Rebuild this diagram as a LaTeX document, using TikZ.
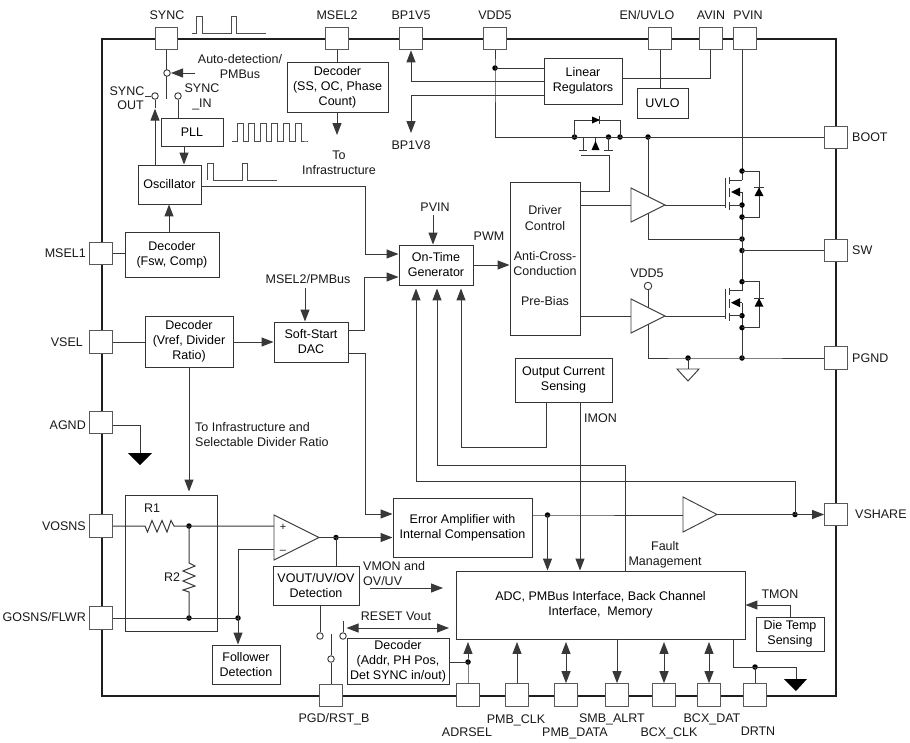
\documentclass[tikz,border=0pt]{standalone}
\usepackage{fontspec}
\setmainfont{Liberation Sans}
\usetikzlibrary{arrows.meta,calc}
\definecolor{ln}{HTML}{383838}
\tikzset{
  wire/.style={draw=ln,line width=1pt,line join=miter},
  arr/.style={wire,-{Triangle[length=12pt,width=9pt]}},
  darr/.style={wire,{Triangle[length=12pt,width=9pt]}-{Triangle[length=12pt,width=9pt]}},
  frame/.style={draw=black!88,line width=2pt},
  pin/.style={draw=black!65,line width=1.2pt,fill=white,minimum width=22.5pt,minimum height=22.5pt,inner sep=0pt},
  blk/.style={draw=black!80,line width=.95pt,fill=white,inner sep=0pt,align=center,font=\fontsize{12.5}{15}\selectfont},
  lbl/.style={inner sep=0pt,text height=9pt,text depth=0pt,font=\fontsize{12.5}{15}\selectfont,text=black!90},
  dotn/.style={circle,fill=black,inner sep=0pt,minimum size=5.5pt},
  swc/.style={circle,draw=ln,line width=.9pt,fill=white,inner sep=0pt,minimum size=6.5pt},
  wave/.style={draw=black!70,line width=.9pt},
  amp/.style={draw=black!75,line width=.95pt,fill=white,line join=miter},
  fetl/.style={draw=ln,line width=1pt},
}
\newcommand{\blockbox}[6]{%
  \pgfmathsetmacro{\bxc}{(#2+#4)/2}\pgfmathsetmacro{\byc}{(#3+#5)/2}%
  \pgfmathsetmacro{\bxw}{#4-#2}\pgfmathsetmacro{\byh}{#5-#3}%
  \node[blk,minimum width=\bxw pt,minimum height=\byh pt] (#1) at (\bxc,\byc) {#6};}
\begin{document}
\begin{tikzpicture}[x=1pt,y=-1pt]
\useasboundingbox (0,0) rectangle (910,742);
\fill[white] (0,0) rectangle (910,742);
% chip frame
\draw[frame] (101.5,38.5) rectangle (836,696);
% pins
\node[pin] (sync) at (166.5,38.5) {};
\node[pin] (msel2) at (337,38.5) {};
\node[pin] (bp) at (411,38.5) {};
\node[pin] (vdd) at (495,38.5) {};
\node[pin] (en) at (660,38.5) {};
\node[pin] (avin) at (711,38.5) {};
\node[pin] (pvin) at (745,38.5) {};
\node[pin] (boot) at (836,137.5) {};
\node[pin] (sw) at (836,250.5) {};
\node[pin] (pgnd) at (836,358) {};
\node[pin] (vshare) at (836,514.5) {};
\node[pin] (msel1) at (101,253.5) {};
\node[pin] (vsel) at (101,342) {};
\node[pin] (agnd) at (101,422.5) {};
\node[pin] (vosns) at (101,526) {};
\node[pin] (gosns) at (101,618) {};
\node[pin] (pgd) at (331,695.5) {};
\node[pin] (adrsel) at (468,695) {};
\node[pin] (pmbclk) at (517,695) {};
\node[pin] (pmbdata) at (566,695) {};
\node[pin] (smb) at (617,695) {};
\node[pin] (bcxclk) at (664,695) {};
\node[pin] (bcxdat) at (709,695) {};
\node[pin] (drtn) at (755,695) {};
% blocks
\blockbox{pll}{161}{118}{223}{146}{PLL}
\blockbox{osc}{138}{165}{201}{204}{Oscillator}
\blockbox{decss}{287}{62}{388}{112}{Decoder\\(SS, OC, Phase\\Count)}
\blockbox{decfsw}{125}{232}{219}{277}{Decoder\\(Fsw, Comp)}
\blockbox{decv}{145}{316}{233}{367}{Decoder\\(Vref, Divider\\Ratio)}
\blockbox{ss}{274}{322}{348}{362}{Soft-Start\\DAC}
\blockbox{ot}{399}{245}{473}{285}{On-Time\\Generator}
\blockbox{drv}{510}{182}{580}{335}{}
\blockbox{ocs}{515}{358}{612}{402}{Output Current\\Sensing}
\blockbox{ea}{393}{498}{532}{557}{Error Amplifier with\\Internal Compensation}
\blockbox{lin}{544}{58}{622}{104}{Linear\\Regulators}
\blockbox{uvlo}{637}{88}{688}{118}{UVLO}
\blockbox{adc}{456}{571}{745}{639}{ADC, PMBus Interface, Back Channel\\Interface,\ \ Memory}
\blockbox{die}{756}{617}{824}{651}{Die Temp\\Sensing}
\blockbox{deca}{347}{638}{449}{684}{Decoder\\(Addr, PH Pos,\\Det SYNC in/out)}
\blockbox{fol}{212}{645}{280}{684}{Follower\\Detection}
\blockbox{vout}{273}{566}{359}{605}{VOUT/UV/OV\\Detection}
\blockbox{rbox}{125}{495}{217}{631}{}
% free ends and junctions
\coordinate (autoend) at (195,73);
\coordinate (msel2txt) at (305,288);
\coordinate (pvintxt) at (433,215);
\coordinate (vmona) at (370,588);
\coordinate (vmonb) at (443,588);
\coordinate (gndA) at (140,453);
\coordinate (gndD) at (796,679);
\coordinate (gndP) at (688,369);
\coordinate (bpdn) at (411,133);
\coordinate (dectxt) at (337,135);
\node[dotn] (dvdd) at (495,68) {};
\node[dotn] (dp1) at (574.5,137) {};
\node[dotn] (dp2) at (608.5,137) {};
\node[dotn] (dp3) at (620,137) {};
\node[dotn] (dp4) at (648,137) {};
\node[dotn] (dsw) at (742,239) {};
\node[dotn] (dsw2) at (742,250.5) {};
\node[dotn] (dpg) at (742,358) {};
\node[dotn] (dgnd) at (688,358) {};
\node[dotn] (dea) at (547.5,515) {};
\node[dotn] (dsh) at (795,514.5) {};
\node[dotn] (dr1) at (189,526) {};
\node[dotn] (dr2) at (189,618) {};
\node[dotn] (dfb) at (238,618) {};
\node[dotn] (dcmp) at (336,537.5) {};
\node[dotn] (dadr) at (468,662) {};
\node[dotn] (ddrtn) at (755,667) {};
% top left sync section
\draw[wire] (sync.south) -- (sync.south |- 0,99);
\draw[arr] (autoend) -- (171,73);
\node[swc] (swm) at (167,73) {};
\node[swc] (swo) at (155,96) {};
\node[swc] (swi) at (178,96) {};
\draw[arr,shorten >=9pt] (osc.north -| swo) -- (swo.south);
\draw[wire] (155,108) -- (swo.south);
\draw[wire] (swo.west) -- (145,96);
\draw[wire] (pll.north -| swi) -- (swi.south);
\draw[arr] (pll.south -| 184,0) -- (osc.north -| 184,0);
\draw[arr] (decfsw.north -| 169,0) -- (osc.south -| 169,0);
\draw[wave] (192,33) -- (196,33) -- (196,16) -- (202,16) -- (202,33) -- (231,33) -- (231,16) -- (236,16) -- (236,33) -- (266,33);
\draw[wave] (232,141) -- (237,141) \foreach \k in {0,...,5} { -- (237+11.6*\k,123) -- (243+11.6*\k,123) -- (243+11.6*\k,141) -- (248.6+11.6*\k,141) } -- (308,141);
\draw[wave] (207,180) -- (207,163) -- (213,163) -- (213,180) -- (242,180) -- (242,163) -- (247,163) -- (247,180) -- (277,180);
\draw[arr] (osc.east |- 0,186) -- (365,186) |- (ot.west |- 0,254);
\draw[wire] (msel2.south) -- (decss.north -| msel2.south);
\draw[arr] (decss.south -| dectxt) -- (dectxt);
\draw[wire] (msel1.east) -- (decfsw.west |- msel1.east);
\draw[wire] (vsel.east) -- (decv.west |- vsel.east);
\draw[arr] (decv.east |- ss.west) -- (ss.west);
\draw[wire] (ss.east |- 0,330) -- (364.5,330) -- (364.5,277);
\draw[arr] (364.5,277) -- (ot.west |- 0,277);
\draw[arr] (ss.east |- 0,353) -- (365,353) |- (ea.west |- 0,514);
\draw[arr] (msel2txt) -- (ss.north -| msel2txt);
\draw[arr] (pvintxt) -- (ot.north -| pvintxt);
\draw[arr,shorten >=3pt] (decv.south -| 189,0) -- (rbox.north -| 189,0);
\draw[wire] (agnd.east |- 0,425) -- (gndA |- 0,425) -- (gndA);
\fill[black] (128,453) -- (152,453) -- (140,465) -- cycle;
% linear regulators
\draw[arr] (lin.west |- 0,81) -- (411,81) -- (bp.south);
\draw[arr] (lin.west |- 0,95) -- (411,95) -- (bpdn);
\draw[wire] (vdd.south) -- (dvdd.center) -- (495,137) -- (boot.west |- 0,137);
\draw[wire] (dvdd.center) -- (lin.west |- dvdd);
\draw[wire] (lin.east |- 0,78) -- (710.5,78) -- (avin.south -| 710.5,0);
\draw[wire] (en.south) -- (uvlo.north -| en.south);
% high-side P FET
\draw[wire] (dp1.center) -- (574.5,120) -- (620,120) -- (dp3.center);
\fill[black] (592,116.5) -- (600,120) -- (592,123.5) -- cycle;
\draw[fetl] (599.8,116) -- (599.8,124);
\draw[fetl] (583,137) -- (583,150);
\draw[fetl] (579,150) -- (587,150);
\draw[fetl] (604,150) -- (613,150);
\draw[fetl] (dp2.center) -- (608.5,150);
\draw[fetl] (595.5,137) -- (595.5,142);
\fill[black] (591.5,150) -- (599.5,150) -- (595.5,141) -- cycle;
\draw[fetl] (581,155) -- (609,155);
\draw[wire] (609,155) -- (609,191) -- (drv.east |- 0,191);
% driver stage
\draw[wire] (dp4.center) -- (648,200);
\draw[wire] (648,210) -- (648,239) -- (dsw.center);
\draw[wire] (drv.east |- 0,205) -- (631,205);
\draw[wire] (drv.east |- 0,316) -- (631,316);
\draw[wire] (665,205) -- (725,205);
\draw[wire] (665,316) -- (725,316);
\draw[wire] (648,290) -- (648,311);
\draw[wire] (648,320) -- (648,358) -- (dgnd.center) -- (dpg.center) -- (pgnd.west |- dpg);
\draw[amp] (631,188) -- (665,205) -- (631,222) -- cycle;
\draw[amp] (631,299) -- (665,316) -- (631,333) -- cycle;
\node[swc,minimum size=7.5pt] (vddc) at (648,286) {};
\draw[wire] (dsw2.center) -- (sw.west |- dsw2);
\draw[wire] (dgnd.center) -- (gndP);
\draw[amp] (677,369) -- (699,369) -- (688,381) -- cycle;
% low/high N FETs
\draw[wire] (pvin.south -| 742,0) -- (742,180);
\draw[wire] (742,192) -- (742,291);
\draw[wire] (742,303) -- (dpg.center);
\foreach \f/\dy in {t/0,b/110.7}{
  \node[dotn] (fd\f) at (742,171+\dy) {};
  \node[dotn] (fs\f) at (742,205+\dy) {};
  \node[dotn] (fk\f) at (742,217+\dy) {};
  \draw[fetl] (725,178+\dy) -- (725,208+\dy);
  \draw[fetl] (729,177+\dy) -- (729,184+\dy);
  \draw[fetl] (729,188+\dy) -- (729,197+\dy);
  \draw[fetl] (729,202+\dy) -- (729,210+\dy);
  \draw[fetl] (729,180+\dy) -- (742,180+\dy);
  \draw[fetl] (733,192+\dy) -- (742,192+\dy);
  \fill[black] (731,192+\dy) -- (740,187.5+\dy) -- (740,196.5+\dy) -- cycle;
  \draw[fetl] (729,205+\dy) -- (fs\f.center);
  \draw[wire] (fd\f.center) -- (759,171+\dy) -- (759,217+\dy) -- (fk\f.center);
  \fill[black] (754.5,196+\dy) -- (763.5,196+\dy) -- (759,187.5+\dy) -- cycle;
  \draw[fetl] (754,187.5+\dy) -- (764,187.5+\dy);
}
% on-time and current paths
\draw[arr] (ot.east |- 0,265) -- (drv.west |- 0,265);
\draw[arr,shorten >=3pt] (ocs.south -| 546,0) -- (546,447) -- (461,447) -- (ot.south -| 461,0);
\draw[arr,shorten >=3pt] (adc.north -| 625.5,0) -- (625.5,465) -- (437,465) -- (ot.south -| 437,0);
\draw[arr,shorten >=3pt] (dsh.center) -- (795,481) -- (416,481) -- (ot.south -| 416,0);
\draw[arr] (ocs.south -| 580,0) -- (adc.north -| 580,0);
\draw[arr] (dea.center) -- (adc.north -| dea);
\draw[wire] (ea.east |- dea) -- (dea.center) -- (683,515);
\draw[arr] (717,514.5) -- (dsh.center) -- (vshare.west);
\draw[amp] (683,497) -- (717,514.5) -- (683,532) -- cycle;
% voltage sense
\draw[wire] (vosns.east) -- (145,526) -- (147.5,532) -- (152,520.5) -- (157,532) -- (162,520.5) -- (167,532) -- (171,520.5) -- (174,526) -- (dr1.center) -- (274,526);
\draw[wire] (dr1.center) -- (189,563) -- (195,566) -- (183,571) -- (195,576) -- (183,581) -- (195,586) -- (183,590) -- (189,592) -- (dr2.center);
\draw[wire] (gosns.east) -- (dr2.center) -- (dfb.center);
\draw[wire] (dfb.center) -- (238,549) -- (274,549);
\draw[arr] (dfb.center) -- (fol.north -| dfb);
\draw[amp] (274,515) -- (319,537.5) -- (274,560) -- cycle;
\draw[arr] (319,537.5) -- (dcmp.center) -- (ea.west |- dcmp);
\draw[wire] (dcmp.center) -- (vout.north -| dcmp);
\draw[arr] (vmona) -- (vmonb);
% reset switch
\node[swc] (swa) at (320,636) {};
\node[swc] (swb) at (343,636) {};
\node[swc] (swc1) at (331,659) {};
\draw[wire] (vout.south -| swa) -- (swa.north);
\draw[wire] (swb.north) -- (343,621);
\draw[wire] (pgd.north) -- (swc1.south);
\draw[wire] (swc1.north) -- (331,634);
\draw[darr] (deca.north west |- 0,628) -- (449,628);
\draw[wire] (deca.east |- dadr) -- (dadr.center);
% bottom bus
\draw[arr,shorten >=2.5pt] (adrsel.north) -- (dadr.center) -- (adc.south -| adrsel);
\draw[arr,shorten >=2.5pt] (pmbclk.north) -- (adc.south -| pmbclk);
\draw[darr] (adc.south -| pmbdata) ++(0,2.5) -- (pmbdata.north);
\draw[arr] (adc.south -| smb) -- (smb.north);
\draw[darr] (adc.south -| bcxclk) ++(0,2.5) -- (bcxclk.north);
\draw[darr] (adc.south -| bcxdat) ++(0,2.5) -- (bcxdat.north);
\draw[wire] (adc.south -| 733,0) -- (733,667) -- (ddrtn.center) -- (796,667) -- (gndD);
\draw[wire] (ddrtn.center) -- (drtn.north -| ddrtn);
\fill[black] (784,679) -- (807,679) -- (796,691) -- cycle;
\draw[arr] (die.north -| 790,0) -- (790,605) -- (adc.east |- 0,605);
% text: pins
\node[lbl] (tsync) at (167,15) {SYNC};
\node[lbl] (tmsel2) at (337,15) {MSEL2};
\node[lbl] (tbp) at (411,15) {BP1V5};
\node[lbl] (tvdd) at (495,15) {VDD5};
\node[lbl] (ten) at (647,15) {EN/UVLO};
\node[lbl] (tavin) at (711,15) {AVIN};
\node[lbl] (tpvin) at (748,15) {PVIN};
\node[lbl,anchor=west] (tboot) at (852,137) {BOOT};
\node[lbl,anchor=west] (tsw) at (852,250) {SW};
\node[lbl,anchor=west] (tpgnd) at (852,358) {PGND};
\node[lbl,anchor=west] (tvshare) at (855,514) {VSHARE};
\node[lbl,anchor=east] (tmsel1) at (86,253) {MSEL1};
\node[lbl,anchor=east] (tvsel) at (83,342) {VSEL};
\node[lbl,anchor=east] (tagnd) at (86,425) {AGND};
\node[lbl,anchor=east] (tvosns) at (86,526) {VOSNS};
\node[lbl,anchor=east] (tgosns) at (86,617) {GOSNS/FLWR};
\node[lbl] (tpgd) at (334,718) {PGD/RST\_B};
\node[lbl] (tadr) at (467,732) {ADRSEL};
\node[lbl] (tpclk) at (516,719) {PMB\_CLK};
\node[lbl] (tpdat) at (575,732) {PMB\_DATA};
\node[lbl] (tsmb) at (612,718) {SMB\_ALRT};
\node[lbl] (tbclk) at (669,732) {BCX\_CLK};
\node[lbl] (tbdat) at (712,718) {BCX\_DAT};
\node[lbl] (tdrtn) at (758,731) {DRTN};
% text: interior
\node[lbl] (tauto) at (240,59) {Auto-detection/};
\node[lbl] (tpmb) at (240,74) {PMBus};
\node[lbl] (tso1) at (127,91) {SYNC};
\node[lbl] (tso2) at (130.5,105) {OUT};
\node[lbl] (tsi1) at (202,88) {SYNC};
\node[lbl] (tsi2) at (202,103) {\_IN};
\node[lbl] (tbp8) at (411,145) {BP1V8};
\node[lbl] (tto) at (339,155) {To};
\node[lbl] (tinf) at (339,170) {Infrastructure};
\node[lbl] (tpv) at (435,207) {PVIN};
\node[lbl] (tpwm) at (489,236) {PWM};
\node[lbl] (tms) at (308,279) {MSEL2/PMBus};
\node[lbl] (td1) at (545,210) {Driver};
\node[lbl] (td2) at (545,226) {Control};
\node[lbl] (td3) at (545,256) {Anti-Cross-};
\node[lbl] (td4) at (545,271) {Conduction};
\node[lbl] (td5) at (545,301) {Pre-Bias};
\node[lbl] (tv5) at (647,273) {VDD5};
\node[lbl,anchor=west] (tinf1) at (195,427) {To Infrastructure and};
\node[lbl,anchor=west] (tinf2) at (195,442) {Selectable Divider Ratio};
\node[lbl,anchor=west] (timon) at (584,418) {IMON};
\node[lbl] (tr1) at (152,508) {R1};
\node[lbl] (tr2) at (172,577) {R2};
\node[lbl] (tplus) at (283,526) {\fontsize{11}{11}\selectfont +};
\node[lbl] (tminus) at (283,549) {\fontsize{11}{11}\selectfont --};
\node[lbl,anchor=west] (tvm1) at (363,566) {VMON and};
\node[lbl,anchor=west] (tvm2) at (363,581) {OV/UV};
\node[lbl] (trst) at (396,616) {RESET Vout};
\node[lbl] (tfm1) at (665,546) {Fault};
\node[lbl] (tfm2) at (665,561) {Management};
\node[lbl] (ttm) at (780,594) {TMON};
\end{tikzpicture}
\end{document}
